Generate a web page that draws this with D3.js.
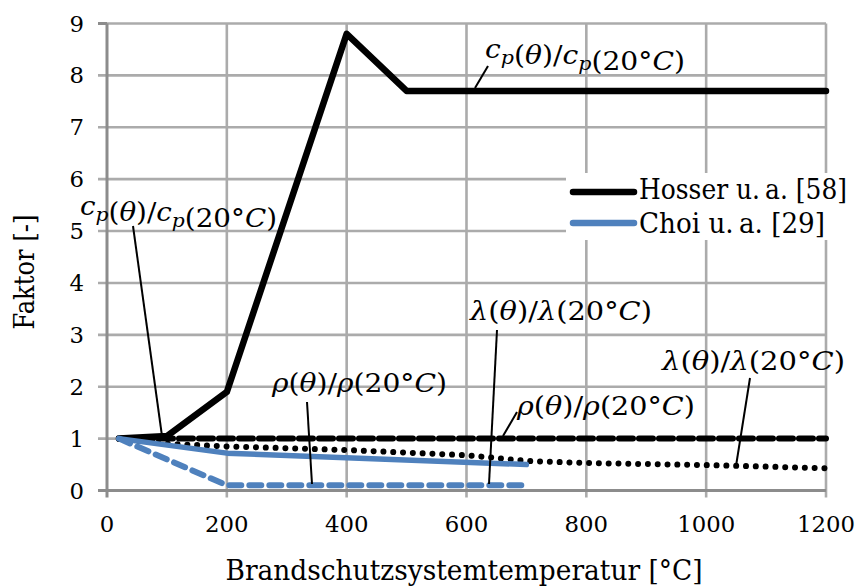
<!DOCTYPE html>
<html>
<head>
<meta charset="utf-8">
<script src="https://cdn.jsdelivr.net/npm/d3@7"></script>
<style>
  body { margin: 0; background: #fff; }
</style>
</head>
<body>
<div id="chart"></div>
<script>
// ticks
var xTicks = [0, 200, 400, 600, 800, 1000, 1200];
var yTicks = [0, 1, 2, 3, 4, 5, 6, 7, 8, 9];

// Hosser u. a. [58]
var hosserCpX = [20, 100, 200, 400, 500, 1200];
var hosserCpY = [1, 1.05, 1.9, 8.8, 7.7, 7.7];
var hosserRhoX = [20, 1200];
var hosserRhoY = [1, 1];
var hosserLambdaX = [20, 100, 200, 400, 600, 700, 800, 1000, 1200];
var hosserLambdaY = [1, 0.9, 0.85, 0.78, 0.68, 0.57, 0.53, 0.49, 0.43];

// Choi u. a. [29]
var choiLambdaX = [20, 200, 700];
var choiLambdaY = [1, 0.72, 0.5];
var choiRhoX = [20, 200, 700];
var choiRhoY = [1, 0.1, 0.1];

var legendNames = ["Hosser u.\u2009a. [58]", "Choi u.\u2009a. [29]"];
var xTitle = "Brandschutzsystemtemperatur [°C]";
var yTitle = "Faktor [-]";

var width = 861, height = 588;
var black = "#000", blue = "#4f81bd";
var serif = "'DejaVu Serif', serif";

var svg = d3.select("#chart").append("svg")
  .attr("width", width)
  .attr("height", height)
  .style("font-family", serif);

var x = d3.scaleLinear().domain([0, 1200]).range([107, 826]);
var y = d3.scaleLinear().domain([0, 9]).range([490.5, 23.5]);

// grid
var grid = svg.append("g").attr("class", "grid");
grid.selectAll(".vg").data(xTicks.slice(1)).enter().append("line")
  .attr("x1", function(d) { return x(d); }).attr("x2", function(d) { return x(d); })
  .attr("y1", y(9)).attr("y2", y(0) + 7)
  .style("stroke", "#ababab").style("stroke-width", 2.6);
grid.selectAll(".hg").data(yTicks.slice(1)).enter().append("line")
  .attr("x1", x(0) - 9).attr("x2", x(1200))
  .attr("y1", function(d) { return y(d); }).attr("y2", function(d) { return y(d); })
  .style("stroke", "#ababab").style("stroke-width", 2.6);

// axis lines
svg.append("line").attr("x1", x(0)).attr("x2", x(0)).attr("y1", y(9)).attr("y2", y(0) + 7)
  .style("stroke", "#8c8c8c").style("stroke-width", 3);
svg.append("line").attr("x1", x(0) - 9).attr("x2", x(1200)).attr("y1", y(0)).attr("y2", y(0))
  .style("stroke", "#8c8c8c").style("stroke-width", 3);
svg.append("line").attr("x1", x(0) - 9).attr("x2", x(0)).attr("y1", y(9)).attr("y2", y(9))
  .style("stroke", "#8c8c8c").style("stroke-width", 3);

// tick labels
svg.append("g").selectAll("text").data(xTicks).enter().append("text")
  .attr("x", function(d) { return x(d); })
  .attr("y", 532)
  .attr("text-anchor", "middle")
  .style("font-size", "23px")
  .attr("textLength", function(d) { return String(d).length * 14.5; })
  .attr("lengthAdjust", "spacingAndGlyphs")
  .text(function(d) { return d; });
svg.append("g").selectAll("text").data(yTicks).enter().append("text")
  .attr("x", 84)
  .attr("y", function(d) { return y(d) + 8; })
  .attr("text-anchor", "end")
  .style("font-size", "23px")
  .attr("textLength", 14.5)
  .attr("lengthAdjust", "spacingAndGlyphs")
  .text(function(d) { return d; });

// axis titles
svg.append("text")
  .attr("x", 464).attr("y", 580)
  .attr("text-anchor", "middle")
  .attr("textLength", 477).attr("lengthAdjust", "spacingAndGlyphs")
  .style("font-size", "27px")
  .text(xTitle);
svg.append("text")
  .attr("transform", "translate(34,272) rotate(-90)")
  .attr("text-anchor", "middle")
  .attr("textLength", 115).attr("lengthAdjust", "spacingAndGlyphs")
  .style("font-size", "27px")
  .text(yTitle);

// legend box
svg.append("rect")
  .attr("x", 566).attr("y", 173).attr("width", 295).attr("height", 67)
  .style("fill", "#fff");

var line = d3.line()
  .x(function(d) { return x(d[0]); })
  .y(function(d) { return y(d[1]); });

function series(xs, ys, color, w, dash) {
  svg.append("path")
    .datum(d3.zip(xs, ys))
    .attr("d", line)
    .style("fill", "none")
    .style("stroke", color)
    .style("stroke-width", w)
    .style("stroke-linecap", "round")
    .style("stroke-linejoin", "round")
    .style("stroke-dasharray", dash);
}

series(hosserLambdaX, hosserLambdaY, black, 6, "0.01,9.8");
series(hosserRhoX, hosserRhoY, black, 6, "14,6");
series(hosserCpX, hosserCpY, black, 6.5, null);
series(choiRhoX, choiRhoY, blue, 6, "12,8");
series(choiLambdaX, choiLambdaY, blue, 5.5, null);

// legend
var legend = svg.append("g").attr("class", "legend");
[black, blue].forEach(function(c, i) {
  legend.append("line")
    .attr("x1", 573).attr("x2", 634)
    .attr("y1", 192 + i * 31).attr("y2", 192 + i * 31)
    .style("stroke", c).style("stroke-width", 6.5).style("stroke-linecap", "round");
  // slightly taller than wide, like the original serif face
  legend.append("text")
    .attr("transform", "translate(639," + (199 + i * 34) + ") scale(1,1.2)")
    .style("font-size", "24px")
    .attr("textLength", i === 0 ? 208 : 186).attr("lengthAdjust", "spacingAndGlyphs")
    .text(legendNames[i]);
});

// math labels with leader lines
function mathLabel(sym, sub, x0, base, len) {
  var t = svg.append("text").attr("x", x0).attr("y", base)
    .style("font-size", "26px")
    .attr("textLength", len).attr("lengthAdjust", "spacingAndGlyphs");
  function s(str, italic) {
    t.append("tspan").style("font-style", italic ? "italic" : "normal").text(str);
  }
  function symbol() {
    s(sym, true);
    if (sub) {
      t.append("tspan").attr("dy", 6).style("font-style", "italic").style("font-size", "19px").text(sub);
      t.append("tspan").attr("dy", -6).text("");
    }
  }
  symbol(); s("(", false); s("θ", true); s(")/", false);
  symbol(); s("(20°", false); s("C", true); s(")", false);
}

var labels = [
  {sym: "c", sub: "p", x: 485, y: 58, len: 200, lx: [475, 488], ly: [88, 66]},
  {sym: "c", sub: "p", x: 80, y: 215, len: 197, lx: [133, 162], ly: [226, 436]},
  {sym: "λ", sub: null, x: 470, y: 320, len: 182, lx: [497, 489], ly: [330, 484]},
  {sym: "ρ", sub: null, x: 272, y: 392, len: 175, lx: [307, 312], ly: [402, 484]},
  {sym: "ρ", sub: null, x: 517, y: 415, len: 178, lx: [517, 503], ly: [412, 436]},
  {sym: "λ", sub: null, x: 662, y: 370, len: 183, lx: [750, 736], ly: [378, 466]}
];

labels.forEach(function(l) {
  svg.append("line")
    .attr("x1", l.lx[0]).attr("y1", l.ly[0]).attr("x2", l.lx[1]).attr("y2", l.ly[1])
    .style("stroke", "#000").style("stroke-width", 2);
  mathLabel(l.sym, l.sub, l.x, l.y, l.len);
});
</script>
</body>
</html>
